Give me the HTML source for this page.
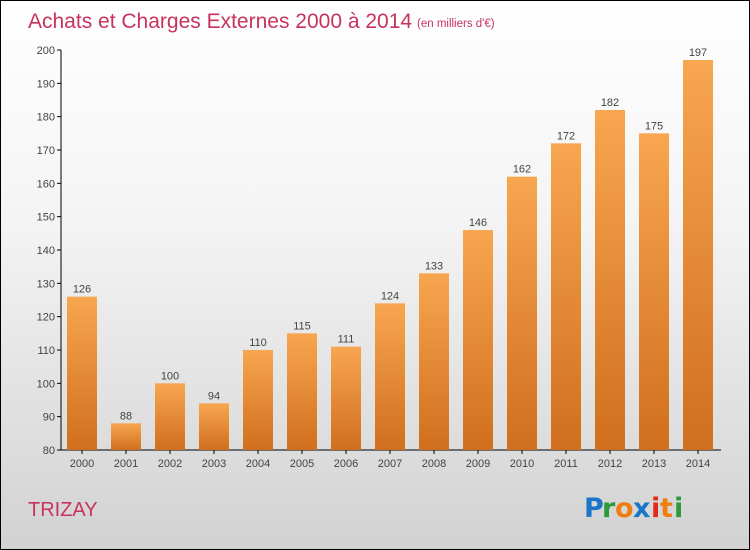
<!DOCTYPE html>
<html><head><meta charset="utf-8"><style>
body{margin:0}
#c{position:relative;width:748px;height:548px;border:1px solid #000;background:linear-gradient(#ffffff,#f4f4f4 40%,#d2d2d2);font-family:"Liberation Sans",sans-serif;overflow:hidden}
</style></head><body>
<div id="c">
<svg id="s" width="748" height="548" style="position:absolute;left:0;top:0">
<defs><linearGradient id="g" x1="0" y1="0" x2="0" y2="1"><stop offset="0" stop-color="#f8a650"/><stop offset="1" stop-color="#d06f1e"/></linearGradient></defs>
<text x="27" y="27" font-size="21" fill="#c8335e">Achats et Charges Externes 2000 à 2014</text>
<text x="416" y="26" font-size="11.5" fill="#c8335e">(en milliers d'€)</text>
<text x="27" y="515" font-size="20" fill="#c8335e">TRIZAY</text>
<g font-size="27" font-family="'DejaVu Sans',sans-serif" font-weight="bold">
<text x="583" y="516" fill="#1a75c9">P</text><text x="601" y="516" fill="#2a9a3a">r</text><text x="614" y="516" fill="#f07d10">o</text><text x="632" y="516" fill="#1a75c9">x</text><text x="650" y="516" fill="#e02a1a">i</text><text x="659" y="516" fill="#f07d10">t</text><text x="673" y="516" fill="#2a9a3a">i</text>
</g>
<g id="plot"></g>
</svg>
</div>
<script>
const categories=["2000","2001","2002","2003","2004","2005","2006","2007","2008","2009","2010","2011","2012","2013","2014"];
const values=[126,88,100,94,110,115,111,124,133,146,162,172,182,175,197];
const ticks=[80,90,100,110,120,130,140,150,160,170,180,190,200];
const NS="http://www.w3.org/2000/svg";
const p=document.getElementById('plot');
const y=v=>449-(v-80)*(400/120);
const x=i=>81+i*44;
function mk(t,a,txt){const e=document.createElementNS(NS,t);for(const k in a)e.setAttribute(k,a[k]);if(txt!==undefined)e.textContent=txt;p.appendChild(e);return e;}
let ax=mk('line',{x1:60,y1:y(200),x2:60,y2:449,stroke:'#000'});


let bx=mk('line',{x1:60,y1:449,x2:720,y2:449,stroke:'#000'});


ticks.forEach(t=>{
 let l=mk('line',{x1:56,y1:y(t),x2:60,y2:y(t),stroke:'#000'});
 
 
 let tx=mk('text',{x:54,y:y(t)+4,'font-size':11,fill:'#444','text-anchor':'end'},t);
 
 
});
categories.forEach((c,i)=>{
 let r=mk('rect',{x:x(i)-15,y:y(values[i]),width:30,height:449-y(values[i]),fill:'url(#g)'});
 
 
 let v=mk('text',{x:x(i),y:y(values[i])-4,'font-size':11,fill:'#444','text-anchor':'middle'},values[i]);
 
 
 let tl=mk('line',{x1:x(i),y1:449,x2:x(i),y2:453,stroke:'#000'});
 
 
 let xl=mk('text',{x:x(i),y:466,'font-size':11,fill:'#444','text-anchor':'middle'},c);
 
 
});
</script>
</body></html>
